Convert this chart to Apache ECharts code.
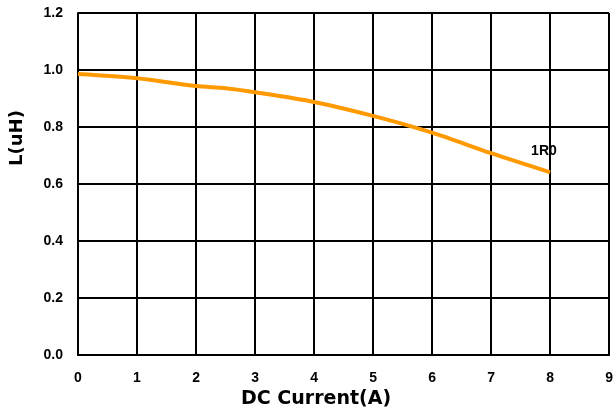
<!DOCTYPE html>
<html><head><meta charset="utf-8">
<script src="https://cdn.jsdelivr.net/npm/echarts@6/dist/echarts.min.js"></script>
<style>html,body{margin:0;padding:0;background:#fff}#c{width:616px;height:416px}</style>
</head><body><div id="c"></div>
<script>
const xValues = [0, 1, 2, 2.5, 3, 4, 5, 6, 7, 8];
const lValues = [0.986, 0.971, 0.944, 0.936, 0.922, 0.888, 0.839, 0.780, 0.708, 0.641];
const seriesName = '1R0';
const xTicks = [0,1,2,3,4,5,6,7,8,9];
const yTicks = ['0.0','0.2','0.4','0.6','0.8','1.0','1.2'];

const data = xValues.map((x,i)=>[x, lValues[i]]);
const font = 'Liberation Sans, Arial, sans-serif';
const wide = 'DejaVu Sans, sans-serif';
const chart = echarts.init(document.getElementById('c'), null, {renderer:'canvas'});
chart.setOption({
  animation:false,
  grid:{left:78, top:13, right:2, bottom:61, containLabel:false},
  xAxis:{type:'value', min:0, max:9, interval:1,
    name:'DC Current(A)', nameLocation:'middle', nameGap:35,
    nameTextStyle:{fontFamily:wide, fontWeight:'bold', fontSize:19, color:'#000', padding:[0,55,0,0]},
    axisLine:{lineStyle:{color:'#000', width:2}}, axisTick:{show:false},
    axisLabel:{fontFamily:font, fontWeight:'bold', fontSize:14, color:'#000', margin:16,
      formatter:v=>String(xTicks[Math.round(v)])},
    splitLine:{show:true, lineStyle:{color:'#000', width:2}}},
  yAxis:{type:'value', min:0, max:1.2, interval:0.2,
    name:'L(uH)', nameLocation:'middle', nameGap:52, nameRotate:90,
    nameTextStyle:{fontFamily:wide, fontWeight:'bold', fontSize:18, color:'#000', padding:[0,0,0,92]},
    axisLine:{show:true, lineStyle:{color:'#000', width:2}}, axisTick:{show:false},
    axisLabel:{fontFamily:font, fontWeight:'bold', fontSize:14, color:'#000', margin:15,
      formatter:v=>yTicks[Math.round(v/0.2)]},
    splitLine:{show:true, lineStyle:{color:'#000', width:2}}},
  series:[{name:seriesName, type:'line', data:data, smooth:0.3, showSymbol:false,
    symbol:'none',
    lineStyle:{color:'#FF9900', width:4},
    endLabel:{show:true, formatter:seriesName, fontFamily:font, fontWeight:'bold', fontSize:14,
      color:'#000', offset:[-27,-21]}}]
});
</script></body></html>
